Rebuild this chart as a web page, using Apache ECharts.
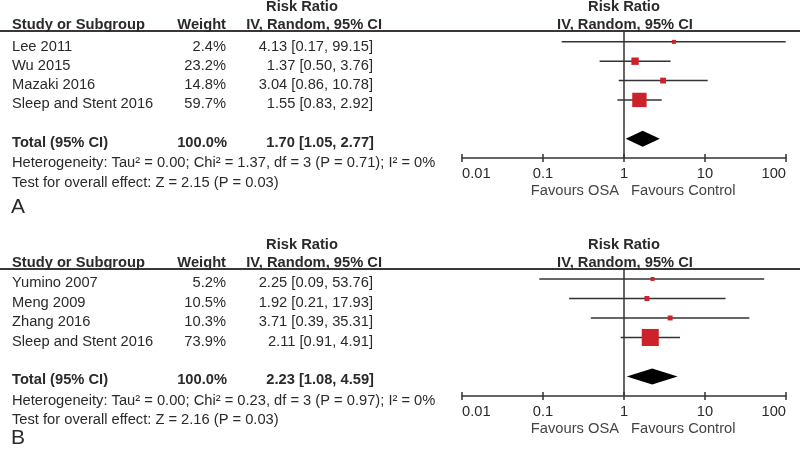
<!DOCTYPE html>
<html><head><meta charset="utf-8">
<script src="https://cdn.jsdelivr.net/npm/echarts@6/dist/echarts.min.js"></script>
<style>html,body{margin:0;padding:0;background:#fff}#c{width:800px;height:449px}</style>
</head><body><div id="c"></div>
<script>
// ---- Data ----
const studiesA = ['Lee 2011', 'Wu 2015', 'Mazaki 2016', 'Sleep and Stent 2016'];
const weightsA = [2.4, 23.2, 14.8, 59.7];
const rrA = [4.13, 1.37, 3.04, 1.55];
const lowA = [0.17, 0.50, 0.86, 0.83];
const highA = [99.15, 3.76, 10.78, 2.92];
const totalA = [1.70, 1.05, 2.77];
const hetA = 'Heterogeneity: Tau\u00b2 = 0.00; Chi\u00b2 = 1.37, df = 3 (P = 0.71); I\u00b2 = 0%';
const testA = 'Test for overall effect: Z = 2.15 (P = 0.03)';

const studiesB = ['Yumino 2007', 'Meng 2009', 'Zhang 2016', 'Sleep and Stent 2016'];
const weightsB = [5.2, 10.5, 10.3, 73.9];
const rrB = [2.25, 1.92, 3.71, 2.11];
const lowB = [0.09, 0.21, 0.39, 0.91];
const highB = [53.76, 17.93, 35.31, 4.91];
const totalB = [2.23, 1.08, 4.59];
const hetB = 'Heterogeneity: Tau\u00b2 = 0.00; Chi\u00b2 = 0.23, df = 3 (P = 0.97); I\u00b2 = 0%';
const testB = 'Test for overall effect: Z = 2.16 (P = 0.03)';

const axisTicks = [0.01, 0.1, 1, 10, 100];
const favoursLeft = 'Favours OSA';
const favoursRight = 'Favours Control';
const panelLabels = ['A', 'B'];

// ---- Styles ----
const FONT = '"Liberation Sans", Arial, sans-serif';
const FS = 14.7;
const TXT = '#2a2a2a';
const LINE = '#333';
const RED = '#cc2229';
const TOTAL_ROW = 5;

const chart = echarts.init(document.getElementById('c'), null, {renderer: 'canvas'});
const f2 = v => v.toFixed(2);

function panel(idx, top, ymin, studies, weights, rr, low, high, total) {
  const grid = {left: 462, width: 324, top: top, height: 127};
  const xMain = {
    gridIndex: idx, type: 'log', logBase: 10, min: 0.01, max: 100, position: 'bottom',
    axisLine: {onZero: false, lineStyle: {color: LINE, width: 1.5}},
    axisTick: {show: true, length: 4, lineStyle: {color: LINE, width: 1.5}},
    splitLine: {show: false},
    axisLabel: {
      color: TXT, fontSize: FS, fontFamily: FONT, margin: 8,
      alignMinLabel: 'left', alignMaxLabel: 'right',
      formatter: v => String(axisTicks.find(t => Math.abs(t - v) / t < 1e-6) ?? v)
    }
  };
  const xInner = {
    gridIndex: idx, type: 'log', logBase: 10, min: 0.01, max: 100, position: 'bottom', offset: 0,
    axisLine: {show: false, onZero: false},
    axisTick: {show: true, inside: true, length: 4, lineStyle: {color: LINE, width: 1.5}},
    axisLabel: {show: false}, splitLine: {show: false}
  };
  const y = {gridIndex: idx, type: 'value', inverse: true, min: ymin, max: 6, show: false};
  const xi = idx * 2;
  const ciData = studies.map((s, i) => [low[i], high[i], i]);
  const sqData = studies.map((s, i) => [rr[i], i, weights[i]]);
  const series = [
    {
      type: 'custom', xAxisIndex: xi, yAxisIndex: idx, z: 2, silent: true,
      data: ciData,
      renderItem: (p, api) => {
        const a = api.coord([api.value(0), api.value(2)]);
        const b = api.coord([api.value(1), api.value(2)]);
        return {type: 'line', shape: {x1: a[0], y1: a[1], x2: b[0], y2: b[1]},
          style: {stroke: LINE, lineWidth: 1.5}};
      },
      markLine: {
        silent: true, symbol: 'none', label: {show: false},
        lineStyle: {color: LINE, width: 1.5, type: 'solid'},
        data: [{xAxis: 1}]
      }
    },
    {
      type: 'scatter', xAxisIndex: xi, yAxisIndex: idx, z: 3, silent: true,
      symbol: 'rect',
      symbolSize: v => Math.max(4, 3 + 0.19 * v[2]),
      itemStyle: {color: RED, opacity: 1},
      data: sqData
    },
    {
      type: 'custom', xAxisIndex: xi, yAxisIndex: idx, z: 4, silent: true,
      data: [[total[0], total[1], total[2], TOTAL_ROW]],
      renderItem: (p, api) => {
        const c = api.coord([api.value(0), api.value(3)]);
        const l = api.coord([api.value(1), api.value(3)]);
        const r = api.coord([api.value(2), api.value(3)]);
        const h = 8;
        return {type: 'polygon', shape: {points: [[l[0], c[1]], [c[0], c[1] - h], [r[0], c[1]], [c[0], c[1] + h]]},
          style: {fill: '#000'}};
      }
    }
  ];
  return {grid, xAxes: [xMain, xInner], y, series};
}

const pA = panel(0, 31, -0.56, studiesA, weightsA, rrA, lowA, highA, totalA);
const pB = panel(1, 269, -0.51, studiesB, weightsB, rrB, lowB, highB, totalB);

function txt(text, x, y, opt) {
  opt = opt || {};
  return {type: 'text', silent: true, style: {
    text: text, x: x, y: y, fill: opt.fill || TXT,
    font: (opt.bold ? 'bold ' : '') + (opt.size || FS) + 'px ' + FONT,
    textAlign: opt.align || 'left', textVerticalAlign: 'middle'
  }};
}

function tableGraphics(top, rowsY, totalY, hetY, testY, labY, favY, studies, weights, rr, low, high, total, het, test, label) {
  const g = [];
  g.push({type: 'line', silent: true, shape: {x1: 0, y1: top, x2: 800, y2: top}, style: {stroke: '#3d3636', lineWidth: 2}});
  g.push(txt('Risk Ratio', 302, top - 24, {bold: true, align: 'center'}));
  g.push(txt('Study or Subgroup', 12, top - 6, {bold: true}));
  g.push(txt('Weight', 226, top - 6, {bold: true, align: 'right'}));
  g.push(txt('IV, Random, 95% CI', 382, top - 6, {bold: true, align: 'right'}));
  g.push(txt('Risk Ratio', 624, top - 24, {bold: true, align: 'center'}));
  g.push(txt('IV, Random, 95% CI', 625, top - 6, {bold: true, align: 'center'}));
  studies.forEach((s, i) => {
    const yy = rowsY[i];
    g.push(txt(s, 12, yy));
    g.push(txt(weights[i].toFixed(1) + '%', 226, yy, {align: 'right'}));
    g.push(txt(f2(rr[i]) + ' [' + f2(low[i]) + ', ' + f2(high[i]) + ']', 373, yy, {align: 'right'}));
  });
  g.push(txt('Total (95% CI)', 12, totalY, {bold: true}));
  g.push(txt('100.0%', 227, totalY, {bold: true, align: 'right'}));
  g.push(txt(f2(total[0]) + ' [' + f2(total[1]) + ', ' + f2(total[2]) + ']', 374, totalY, {bold: true, align: 'right'}));
  g.push(txt(het, 12, hetY));
  g.push(txt(test, 12, testY));
  g.push(txt(label, 11, labY, {size: 21}));
  g.push(txt(favoursLeft, 619, favY, {align: 'right', fill: '#444'}));
  g.push(txt(favoursRight, 631, favY, {fill: '#444'}));
  return g;
}

const graphics = [].concat(
  tableGraphics(31, [47, 66, 85, 104], 143, 163, 183, 207, 191,
    studiesA, weightsA, rrA, lowA, highA, totalA, hetA, testA, panelLabels[0]),
  tableGraphics(269, [283, 302.5, 322, 341.5], 380, 401, 420, 438, 429,
    studiesB, weightsB, rrB, lowB, highB, totalB, hetB, testB, panelLabels[1])
);

chart.setOption({
  animation: false,
  backgroundColor: '#fff',
  grid: [pA.grid, pB.grid],
  xAxis: [].concat(pA.xAxes, pB.xAxes),
  yAxis: [pA.y, pB.y],
  series: [].concat(pA.series, pB.series),
  graphic: graphics
});
</script></body></html>
